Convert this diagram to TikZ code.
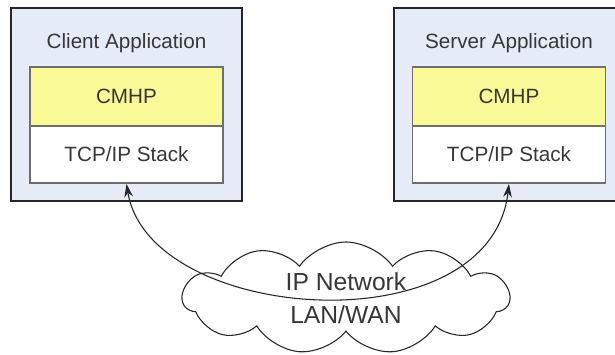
\documentclass[tikz,border=0pt]{standalone}
\usepackage{fontspec}
\setmainfont{Liberation Sans}
\usetikzlibrary{arrows.meta,positioning,shapes.symbols}
\definecolor{appblue}{RGB}{229,236,247}
\definecolor{cmhpyellow}{RGB}{250,250,150}
\definecolor{framegray}{RGB}{110,110,110}
\definecolor{textgray}{RGB}{55,55,55}
\begin{document}
\begin{tikzpicture}[x=0.75pt,y=-0.75pt,>={Stealth[length=10pt,width=6.5pt]},
 appbox/.style={draw=black!85,line width=0.9pt,fill=appblue,minimum width=173.25pt,minimum height=144.75pt,inner sep=0pt},
 applabel/.style={text=textgray,font=\fontsize{15.5}{18}\selectfont},
 protobox/.style={draw=framegray,line width=1.3pt,minimum width=144.75pt,inner sep=0pt,text=textgray,font=\fontsize{15.5}{18}\selectfont},
 netcloud/.style={cloud,cloud puffs=11,cloud puff arc=110,cloud ignores aspect,draw=black!85,line width=0.8pt,fill=white,
  minimum width=245pt,minimum height=84pt,align=center,text=textgray,font=\fontsize{18.5}{24.75}\selectfont},
 link/.style={<->,draw=black!85,line width=0.8pt}]
\useasboundingbox (0,0) rectangle (615,354);
% client side
\node[appbox] (cbox) at (126.5,104.5) {};
\node[applabel] (clabel) at (126.5,43) {Client Application};
\node[protobox,fill=cmhpyellow,minimum height=44.25pt] (ccmhp) at (126.5,96.5) {CMHP};
\node[protobox,fill=white,minimum height=42.75pt] (cstack) at (126.5,154.5) {TCP/IP Stack};
% server side
\node[appbox] (sbox) at (509.5,104.5) {};
\node[applabel] (slabel) at (509,43) {Server Application};
\node[protobox,fill=cmhpyellow,minimum height=44.25pt] (scmhp) at (509,96.5) {CMHP};
\node[protobox,fill=white,minimum height=42.75pt] (sstack) at (509,154.5) {TCP/IP Stack};
% network
\node[netcloud] (net) at (346,298) {IP Network\\LAN/WAN};
\draw[link] (cstack.south) .. controls +(23,140) and +(-19,164) .. (sstack.south);
\end{tikzpicture}
\end{document}
